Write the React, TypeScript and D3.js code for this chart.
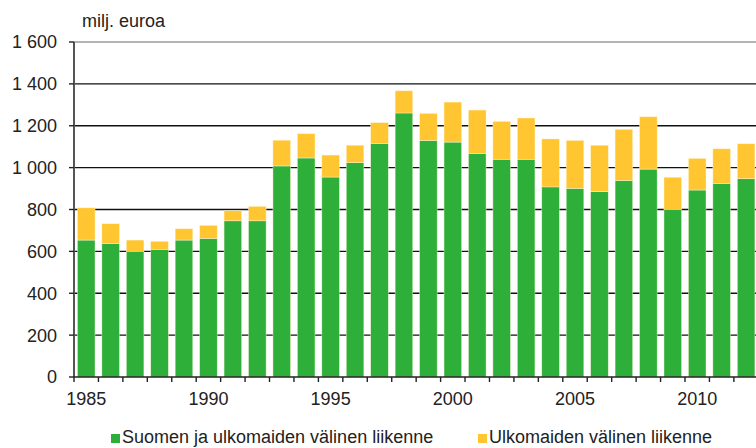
import React from "react";
import * as d3 from "d3";

const width = 756;
const height = 448;

// vuodet ja arvot (milj. euroa), luettu kuvasta
const years = [
  1985, 1986, 1987, 1988, 1989, 1990, 1991, 1992, 1993, 1994, 1995, 1996, 1997, 1998,
  1999, 2000, 2001, 2002, 2003, 2004, 2005, 2006, 2007, 2008, 2009, 2010, 2011, 2012,
];
const suomenJaUlkomaiden = [
  654, 638, 600, 610, 654, 662, 746, 746, 1008, 1046, 955, 1024, 1116, 1261,
  1130, 1122, 1068, 1040, 1040, 908, 901, 885, 939, 993, 801, 893, 925, 947,
];
const ulkomaiden = [
  154, 94, 54, 38, 54, 62, 48, 69, 123, 116, 105, 83, 99, 106,
  129, 191, 207, 181, 197, 229, 229, 222, 244, 250, 153, 151, 165, 167,
];
const yTicks = [0, 200, 400, 600, 800, 1000, 1200, 1400, 1600];
const xLabelYears = [1985, 1990, 1995, 2000, 2005, 2010];
const seriesNames = ["Suomen ja ulkomaiden välinen liikenne", "Ulkomaiden välinen liikenne"];
const colors = ["#2EAF3A", "#FFC631"];

const left = 74;
const step = 24.44;
const y0 = 377;
const yTop = 42;

const fmt = (v: number) => d3.format(",")(v).replace(",", " ");

export default function App() {
  const rows = years.map((yr, i) => ({ year: yr, a: suomenJaUlkomaiden[i], b: ulkomaiden[i] }));
  const stacked = d3.stack<any>().keys(["a", "b"])(rows);

  const x = d3
    .scaleBand<number>()
    .domain(years)
    .range([left, left + step * years.length])
    .paddingInner(0.28)
    .paddingOuter(0.14);
  const y = d3.scaleLinear().domain([0, 1600]).range([y0, yTop]);

  const font = "'Liberation Sans', Arial, sans-serif";
  const fs = 18;
  const boundaries = d3.range(years.length + 1).map((k) => left + k * step);

  return (
    <div style={{ position: "fixed", left: 0, top: 0 }}>
      <svg width={width} height={height} style={{ display: "block", background: "#fff" }} fontFamily={font}>
        {/* gridlines */}
        {yTicks.slice(1).map((t) => (
          <line
            key={t}
            x1={left}
            x2={width}
            y1={y(t)}
            y2={y(t)}
            stroke={t === 1600 ? "#9a9a9a" : "#111"}
            strokeWidth={1.4}
          />
        ))}

        {/* bars */}
        {stacked.map((s, si) => (
          <g key={s.key} fill={colors[si]}>
            {s.map((d, i) => (
              <rect
                key={i}
                x={x(years[i])}
                y={y(d[1])}
                width={x.bandwidth()}
                height={y(d[0]) - y(d[1])}
                stroke="#fff6d8"
                strokeWidth={0.6}
                strokeOpacity={0.7}
              />
            ))}
          </g>
        ))}

        {/* y axis */}
        <line x1={left} x2={left} y1={yTop} y2={y0} stroke="#555" strokeWidth={2} />
        {yTicks.map((t) => (
          <g key={t}>
            <line x1={left - 5} x2={left} y1={y(t)} y2={y(t)} stroke="#222" strokeWidth={1.4} />
            <text x={57} y={y(t)} dy="0.36em" textAnchor="end" fontSize={fs} fill="#222">
              {fmt(t)}
            </text>
          </g>
        ))}
        <text x={82} y={27} fontSize={fs} fill="#222">
          milj. euroa
        </text>

        {/* x axis */}
        <line x1={left} x2={width} y1={y0} y2={y0} stroke="#222" strokeWidth={1.4} />
        {boundaries.map((bx, k) => (
          <line key={k} x1={bx} x2={bx} y1={y0} y2={y0 + 5} stroke="#222" strokeWidth={1.4} />
        ))}
        {xLabelYears.map((yr) => (
          <text
            key={yr}
            x={(x(yr) as number) + x.bandwidth() / 2}
            y={405}
            textAnchor="middle"
            fontSize={fs}
            fill="#222"
          >
            {yr}
          </text>
        ))}

        {/* legend */}
        <rect x={111} y={434} width={9} height={9} fill={colors[0]} />
        <text x={122} y={443} fontSize={fs} fill="#222">
          {seriesNames[0]}
        </text>
        <rect x={478} y={434} width={9} height={9} fill={colors[1]} />
        <text x={489} y={443} fontSize={fs} fill="#222">
          {seriesNames[1]}
        </text>
      </svg>
    </div>
  );
}
